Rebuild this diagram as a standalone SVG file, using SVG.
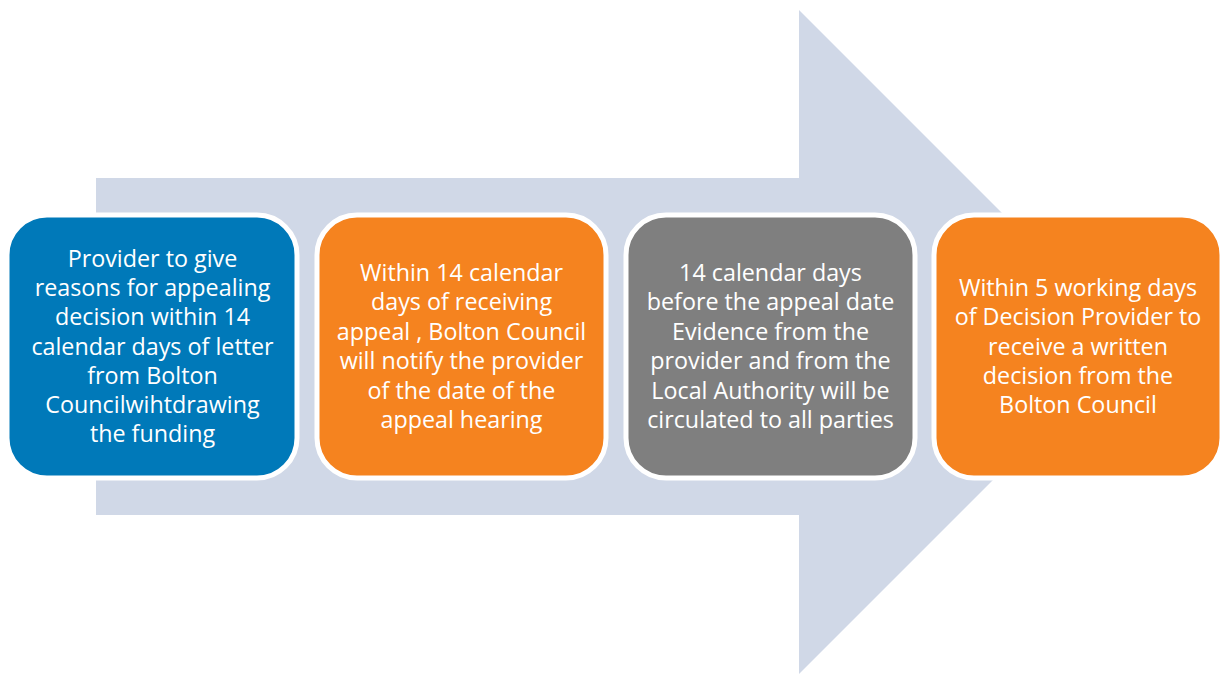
<svg xmlns="http://www.w3.org/2000/svg" width="1224" height="674" viewBox="0 0 1224 674">
<style>
.box{stroke:#FFFFFF;stroke-width:5}
.t{font-family:"Open Sans","Liberation Sans",Arial,sans-serif;font-size:23.3px;fill:#FFFFFF;text-anchor:middle}
</style>
<rect width="1224" height="674" fill="#FFFFFF"/>
<g id="arrow">
<polygon points="96,178 799,178 799,10 1131,342 799,674 799,515 96,515" fill="#D0D8E7"/>
</g>
<g id="connectors"></g>
<g id="node1">
<rect class="box" x="7" y="215" width="290" height="263" rx="40" fill="#0079B9"/>
<text class="t" x="152.5" y="267">Provider to give</text>
<text class="t" x="152.5" y="296">reasons for appealing</text>
<text class="t" x="152.5" y="325">decision within 14</text>
<text class="t" x="152.5" y="355">calendar days of letter</text>
<text class="t" x="152.5" y="384">from Bolton</text>
<text class="t" x="152.5" y="413">Councilwihtdrawing</text>
<text class="t" x="152.5" y="442">the funding</text>
</g>
<g id="node2">
<rect class="box" x="317" y="215" width="289" height="263" rx="40" fill="#F5831F"/>
<text class="t" x="461.5" y="281">Within 14 calendar</text>
<text class="t" x="461.5" y="310">days of receiving</text>
<text class="t" x="461.5" y="340">appeal , Bolton Council</text>
<text class="t" x="461.5" y="369">will notify the provider</text>
<text class="t" x="461.5" y="399">of the date of the</text>
<text class="t" x="461.5" y="428">appeal hearing</text>
</g>
<g id="node3">
<rect class="box" x="626" y="215" width="289" height="263" rx="40" fill="#7F7F7F"/>
<text class="t" x="770.5" y="281">14 calendar days</text>
<text class="t" x="770.5" y="310">before the appeal date</text>
<text class="t" x="770.5" y="340">Evidence from the</text>
<text class="t" x="770.5" y="369">provider and from the</text>
<text class="t" x="770.5" y="399">Local Authority will be</text>
<text class="t" x="770.5" y="428">circulated to all parties</text>
</g>
<g id="node4">
<rect class="box" x="934" y="215" width="288" height="263" rx="40" fill="#F5831F"/>
<text class="t" x="1078" y="296">Within 5 working days</text>
<text class="t" x="1078" y="325">of Decision Provider to</text>
<text class="t" x="1078" y="355">receive a written</text>
<text class="t" x="1078" y="384">decision from the</text>
<text class="t" x="1078" y="413">Bolton Council</text>
</g>
</svg>
